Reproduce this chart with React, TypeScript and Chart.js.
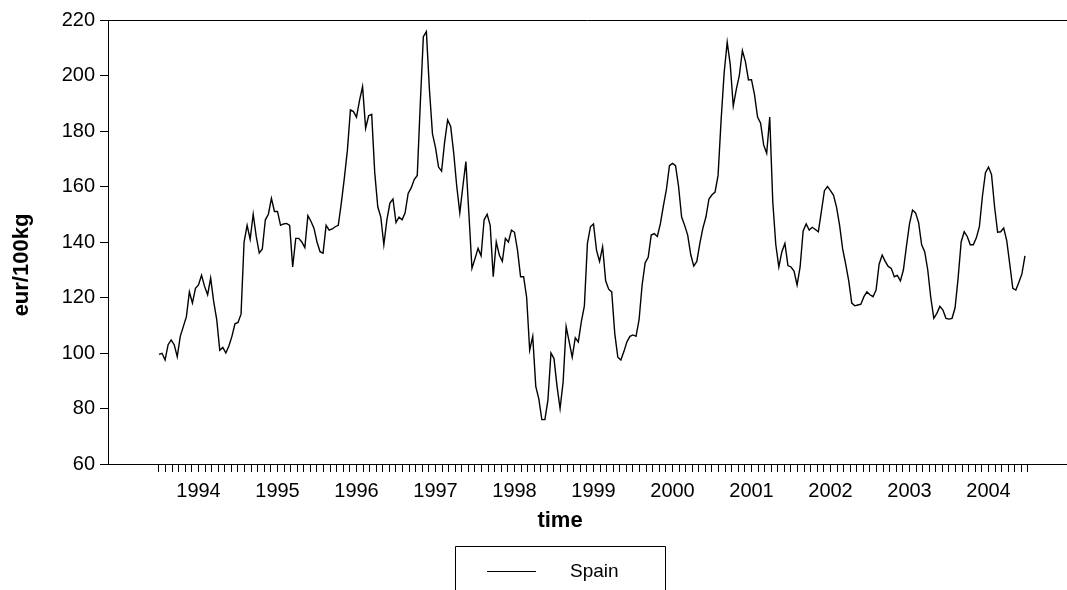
import { useEffect, useRef } from 'react';
import { Chart, registerables } from 'chart.js';

Chart.register(...registerables);

const FONT = '"Liberation Sans", Arial, Helvetica, sans-serif';

// Weekly-ish series read every two weeks (26 samples per year), 1994 .. 2004
const startYear = 1994;
const endYear = 2005;
const pointsPerYear = 26;

const spain1994 = [99.5, 99.9, 97.5, 103, 104.7, 103, 98.7, 106, 109.5, 113, 122, 118, 123.3, 124.5, 128, 124, 121, 127, 118.5, 112, 101, 102, 100, 102.5, 106, 110.5];
const spain1995 = [111, 114, 140, 146, 141, 150, 142, 136, 137.5, 148, 150, 155.7, 151, 151, 146, 146.5, 146.7, 146, 131, 141.3, 141.3, 140, 138, 149.5, 147.5, 145];
const spain1996 = [140, 136.5, 136, 146, 144.3, 144.7, 145.5, 146, 154, 163, 173, 187.6, 187, 185, 191, 196, 181, 185.5, 186, 165, 152.7, 149, 139, 148, 154, 155.5];
const spain1997 = [147, 149, 148, 150.5, 157.5, 159.5, 162.5, 164, 190, 214, 215.8, 195, 179, 174, 167, 165.5, 176, 184, 181.6, 172, 160, 150.5, 160, 169, 150, 130.5];
const spain1998 = [134, 137.7, 135, 148, 150, 146, 127.5, 140, 135.3, 133, 141.3, 140, 144.3, 143.5, 137, 127.5, 127.5, 120, 101, 106, 88, 83.5, 76, 76, 83, 100];
const spain1999 = [98, 88, 80, 89.5, 109.5, 104, 98.5, 105.5, 104, 111.3, 117, 139.5, 145.5, 146.5, 137, 133, 138.3, 126, 123, 122, 107, 98.5, 97.5, 100.5, 104, 106];
const spain2000 = [106.5, 106, 112, 124.5, 132.5, 134.5, 142.5, 143, 142, 146.5, 153, 159, 167.5, 168.3, 167.5, 160, 149, 146, 142.5, 135.5, 131.3, 133, 139.5, 145, 149, 155.5];
const spain2001 = [157, 158, 164, 184, 201, 212, 204, 189, 195, 200, 209, 205, 198.4, 198.5, 193, 185, 182.8, 175, 172, 185, 154.5, 139, 131, 136.5, 139.5, 131.5];
const spain2002 = [131, 129.5, 124.5, 131, 144, 146.5, 144.3, 145.3, 144.5, 143.7, 151, 158.5, 160, 158.5, 156.8, 152.5, 146, 137.5, 132, 126, 118, 117, 117.3, 117.6, 120.3, 122];
const spain2003 = [121, 120.3, 122.7, 132, 135.3, 133, 131.2, 130.5, 127.5, 128, 126, 130, 138.5, 146.5, 151.5, 150.5, 147, 139, 136.5, 130, 120, 112.5, 114.3, 116.8, 115.5, 112.5];
const spain2004 = [112.2, 112.5, 116.3, 127, 140, 143.7, 142, 139, 139, 141.5, 145.5, 156.5, 165, 167, 164.3, 152.7, 143.5, 143.7, 145, 140.5, 132, 123.3, 122.7, 125.5, 128.5, 135];

const yearLabels = ['1994', '1995', '1996', '1997', '1998', '1999', '2000', '2001', '2002', '2003', '2004'];
const yTicks = [60, 80, 100, 120, 140, 160, 180, 200, 220];
const seriesName = 'Spain';
const xTitle = 'time';
const yTitle = 'eur/100kg';

export default function App() {
  const ref = useRef<HTMLCanvasElement | null>(null);

  useEffect(() => {
    document.body.style.margin = '0';
    const canvas = ref.current;
    if (!canvas) return;

    const values = [
      ...spain1994, ...spain1995, ...spain1996, ...spain1997, ...spain1998, ...spain1999,
      ...spain2000, ...spain2001, ...spain2002, ...spain2003, ...spain2004,
    ];
    const data = values.map((v, i) => ({ x: startYear + i / pointsPerYear, y: v }));
    const monthTicks: number[] = [];
    for (let i = 0; i <= (endYear - startYear) * 12; i++) monthTicks.push(startYear + i / 12);

    // plot area: x 108 .. 1067, 79 px per year, 1994.0 at x = 159
    const pxPerYear = 79;
    const xMin = startYear - 51 / pxPerYear;
    const xMax = startYear + (1067 - 159) / pxPerYear;

    const decor = {
      id: 'decor',
      afterDraw(chart: any) {
        const ctx = chart.ctx as CanvasRenderingContext2D;
        const a = chart.chartArea;
        ctx.save();
        ctx.strokeStyle = '#000';
        ctx.lineWidth = 1;
        // top border
        ctx.beginPath();
        ctx.moveTo(a.left, a.top + 0.5);
        ctx.lineTo(chart.width, a.top + 0.5);
        ctx.stroke();
        ctx.fillStyle = '#000';
        // y title
        ctx.save();
        ctx.translate(22, 265);
        ctx.rotate(-Math.PI / 2);
        ctx.font = `bold 22px ${FONT}`;
        ctx.textAlign = 'center';
        ctx.textBaseline = 'middle';
        ctx.fillText(yTitle, 0, 0);
        ctx.restore();
        // x title
        ctx.font = `bold 22px ${FONT}`;
        ctx.textAlign = 'center';
        ctx.textBaseline = 'middle';
        ctx.fillText(xTitle, 560, 521);
        // legend
        ctx.beginPath();
        ctx.rect(455.5, 546.5, 210, 60);
        ctx.stroke();
        ctx.beginPath();
        ctx.moveTo(487, 571.5);
        ctx.lineTo(536, 571.5);
        ctx.stroke();
        ctx.font = `19px ${FONT}`;
        ctx.textAlign = 'left';
        ctx.fillText(seriesName, 570, 572);
        ctx.restore();
      },
    };

    const axisGrid = { display: true, drawOnChartArea: false, drawTicks: true, tickLength: 8, color: '#000', lineWidth: 1 };

    const chart = new Chart(canvas, {
      type: 'line',
      data: {
        datasets: [
          { label: seriesName, data, borderColor: '#000', borderWidth: 1.4, pointRadius: 0, fill: false, tension: 0 },
        ],
      },
      options: {
        animation: false,
        responsive: false,
        devicePixelRatio: 1,
        events: [],
        layout: { padding: { top: 20, left: 0, right: 0, bottom: 0 } },
        plugins: { legend: { display: false }, tooltip: { enabled: false } },
        scales: {
          x: {
            type: 'linear',
            min: xMin,
            max: xMax,
            afterBuildTicks: (s: any) => { s.ticks = monthTicks.map((v) => ({ value: v })); },
            afterFit: (s: any) => { s.height = 126; },
            ticks: {
              autoSkip: false, maxRotation: 0, minRotation: 0, padding: 7, color: '#000',
              font: { family: FONT, size: 20 },
              callback: (_v: any, i: number) => (i % 12 === 6 ? yearLabels[Math.floor(i / 12)] : ''),
            },
            grid: axisGrid,
            border: { display: true, color: '#000', width: 1 },
          },
          y: {
            type: 'linear',
            min: 60,
            max: 220,
            afterBuildTicks: (s: any) => { s.ticks = yTicks.map((v) => ({ value: v })); },
            afterFit: (s: any) => { s.width = 108; },
            ticks: { padding: 5, color: '#000', font: { family: FONT, size: 20 } },
            grid: axisGrid,
            border: { display: true, color: '#000', width: 1 },
          },
        },
      } as any,
      plugins: [decor],
    });
    return () => chart.destroy();
  }, []);

  return (
    <div style={{ width: 1067, height: 590, overflow: 'hidden' }}>
      <canvas ref={ref} width={1067} height={590} style={{ display: 'block' }} />
    </div>
  );
}
